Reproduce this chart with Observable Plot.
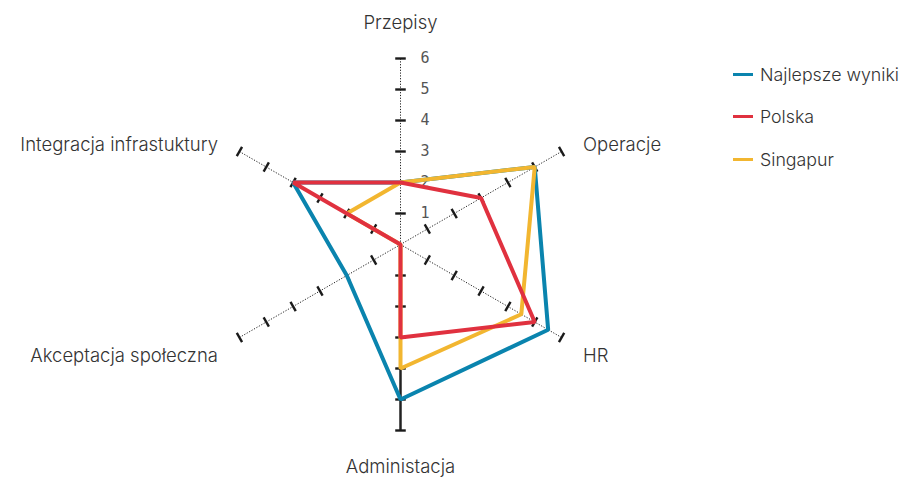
<!DOCTYPE html>
<html>
<head>
<meta charset="utf-8">
<script src="https://cdn.jsdelivr.net/npm/d3@7"></script>
<script src="https://cdn.jsdelivr.net/npm/@observablehq/plot@0.6"></script>
<style>
  html, body { margin: 0; padding: 0; background: #fff; }
  #wrap { position: relative; width: 907px; height: 477px; }
  #legend { position: absolute; left: 733px; top: 61px; font-family: Inter, "Open Sans", sans-serif; font-size: 17.8px; font-weight: 350; color: #333; }
  .item { display: flex; align-items: center; height: 26px; margin-bottom: 16.5px; }
  .sw { width: 20px; height: 3px; margin-right: 7px; }
</style>
</head>
<body>
<div id="wrap"><div id="legend"></div></div>
<script>
// ---- data ----
const axes = ["Przepisy", "Operacje", "HR", "Administacja", "Akceptacja społeczna", "Integracja infrastuktury"];
const angles = [90, 30, -30, -90, -150, 150];
const seriesNames = ["Najlepsze wyniki", "Polska", "Singapur"];
const najlepsze = [2, 5, 5.5, 5, 2, 4];
const polska = [2, 3, 5, 3, 0, 4];
const singapur = [2, 5, 4.5, 4, 0, 2];
const tickValues = [1, 2, 3, 4, 5, 6];
const colors = ["#0a84ae", "#e0313f", "#f2b630"];

const maxV = 6;
const rad = d => d * Math.PI / 180;
const px = (v, a) => v * Math.cos(rad(a));
const py = (v, a) => v * Math.sin(rad(a));

// axes lines
const axisLines = axes.map((name, i) => ({name, a: angles[i], x1: 0, y1: 0, x2: px(maxV, angles[i]), y2: py(maxV, angles[i])}));
const dotted = axisLines.filter(d => d.name !== "Administacja");
const solid = axisLines.filter(d => d.name === "Administacja");

// ticks
const half = 0.17;
const ticks = [];
angles.forEach(a => tickValues.forEach(v => {
  const cx = px(v, a), cy = py(v, a);
  const nx = -Math.sin(rad(a)), ny = Math.cos(rad(a));
  ticks.push({x1: cx - nx * half, y1: cy - ny * half, x2: cx + nx * half, y2: cy + ny * half});
}));

// tick labels on first axis
const tickLabels = tickValues.map(v => ({x: px(v, angles[0]), y: py(v, angles[0]), t: String(v)}));

// axis labels
const labels = axes.map((name, i) => {
  const a = angles[i];
  const vertical = Math.abs(Math.cos(rad(a))) < 0.01;
  const r = vertical ? 7.22 : 6.8;
  return {name, x: px(r, a), y: py(r, a), anchor: vertical ? "middle" : (Math.cos(rad(a)) > 0 ? "start" : "end"), vertical, top: py(1, a) > 0};
});

// series rows (draw order: blue, yellow, red)
const seriesVals = {"Najlepsze wyniki": najlepsze, "Polska": polska, "Singapur": singapur};
const drawOrder = ["Najlepsze wyniki", "Singapur", "Polska"];
const rows = [];
drawOrder.forEach(s => {
  const vals = seriesVals[s];
  [...vals, vals[0]].forEach((v, k) => {
    const a = angles[k % angles.length];
    rows.push({series: s, x: px(v, a), y: py(v, a)});
  });
});

const U = 31, CX = 400, CY = 244, W = 907, H = 477;
const lf = {fill: "#333", fontSize: 18.5, fontWeight: 350};

const chart = Plot.plot({
  width: W, height: H,
  marginTop: 0, marginBottom: 0, marginLeft: 0, marginRight: 0,
  x: {domain: [-CX / U, (W - CX) / U], range: [0, W], axis: null},
  y: {domain: [-(H - CY) / U, CY / U], range: [H, 0], axis: null},
  color: {domain: seriesNames, range: colors},
  style: {fontFamily: "Inter, 'Open Sans', sans-serif", background: "transparent"},
  marks: [
    Plot.link(dotted, {x1: "x1", y1: "y1", x2: "x2", y2: "y2", stroke: "#222", strokeWidth: 1, strokeDasharray: "1.2,1.6"}),
    Plot.link(solid, {x1: "x1", y1: "y1", x2: "x2", y2: "y2", stroke: "#222", strokeWidth: 2.5}),
    Plot.link(ticks, {x1: "x1", y1: "y1", x2: "x2", y2: "y2", stroke: "#1a1a1a", strokeWidth: 2.4}),
    Plot.text(tickLabels, {x: "x", y: "y", text: "t", dx: 20, textAnchor: "start", fill: "#555", fontSize: 15, fontFamily: "'DejaVu Sans Mono', monospace"}),
    Plot.line(rows, {x: "x", y: "y", z: "series", stroke: "series", strokeWidth: 4, strokeLinejoin: "miter", curve: "linear"}),
    Plot.text(labels.filter(d => d.vertical && d.top), {x: "x", y: "y", text: "name", textAnchor: "middle", dy: 2, ...lf}),
    Plot.text(labels.filter(d => d.vertical && !d.top), {x: "x", y: "y", text: "name", textAnchor: "middle", dy: -1, ...lf}),
    Plot.text(labels.filter(d => !d.vertical && d.anchor === "start"), {x: "x", y: "y", text: "name", textAnchor: "start", dy: 6, ...lf}),
    Plot.text(labels.filter(d => !d.vertical && d.anchor === "end"), {x: "x", y: "y", text: "name", textAnchor: "end", dy: 6, ...lf})
  ]
});
document.getElementById("wrap").prepend(chart);

const legend = document.getElementById("legend");
seriesNames.forEach((s, i) => {
  const it = document.createElement("div");
  it.className = "item";
  it.innerHTML = `<span class="sw" style="background:${colors[i]}"></span><span>${s}</span>`;
  legend.appendChild(it);
});
</script>
</body>
</html>
